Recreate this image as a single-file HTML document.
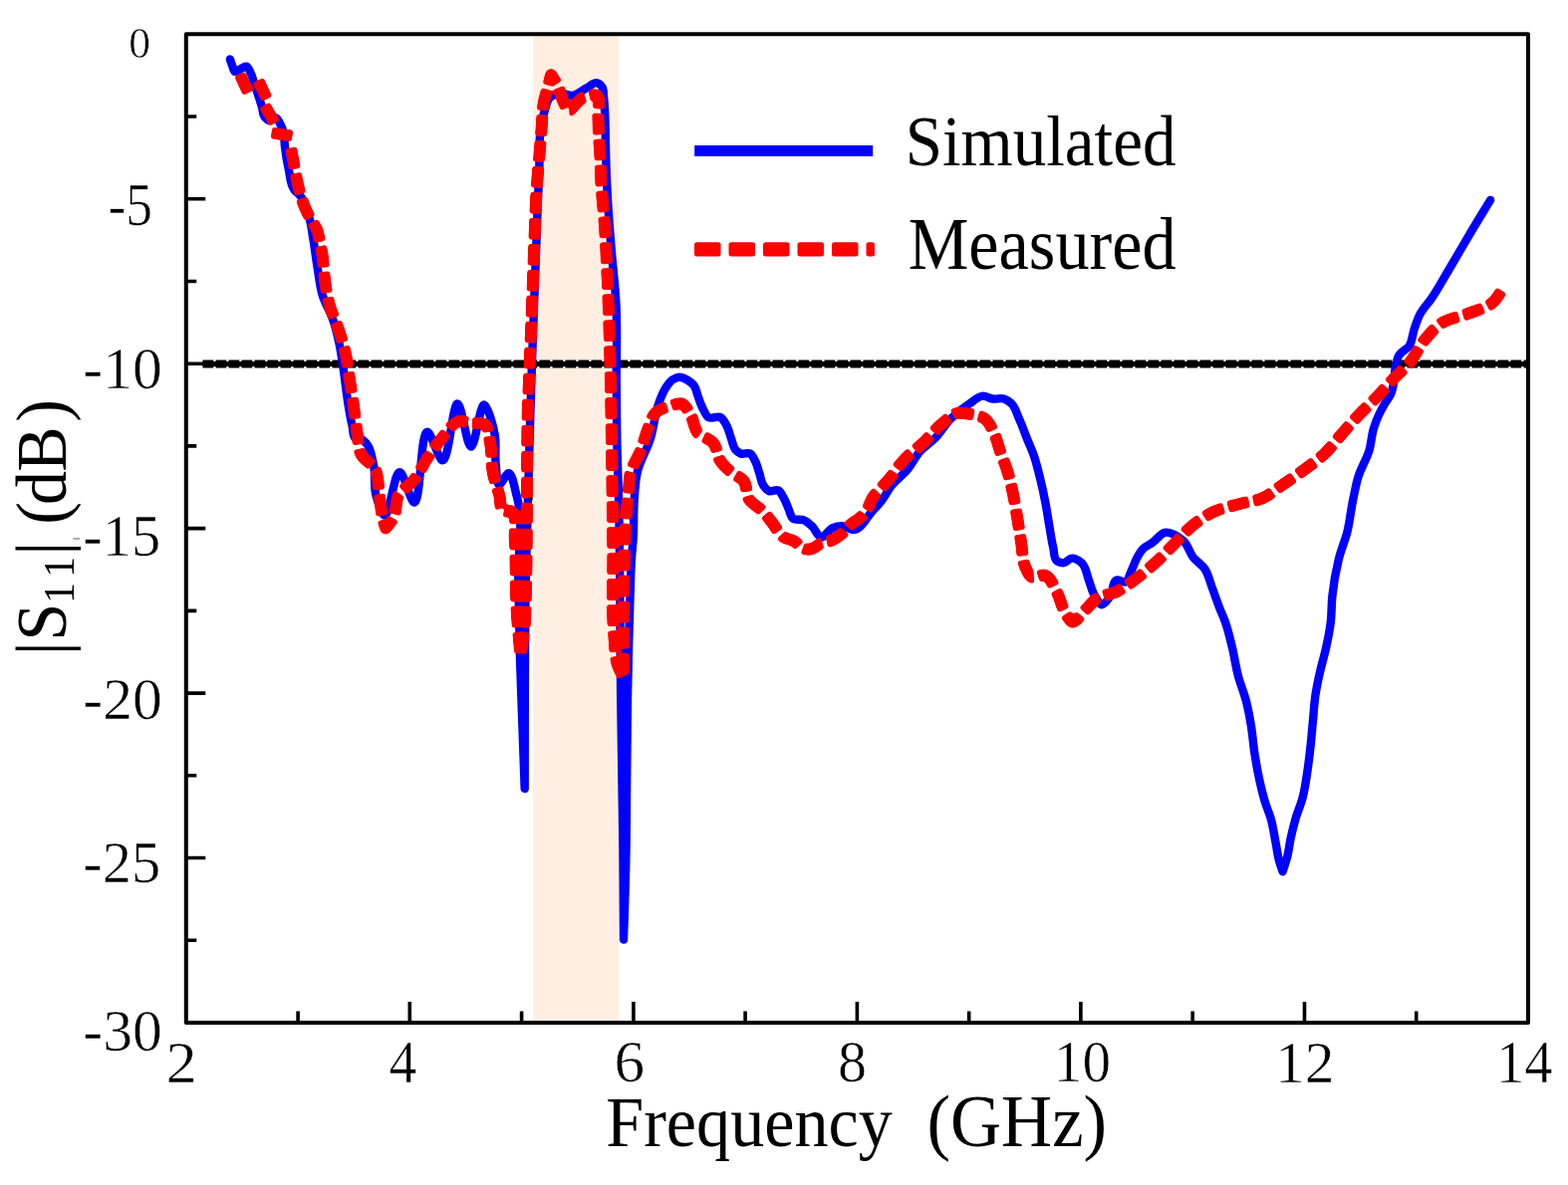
<!DOCTYPE html>
<html lang="en">
<head>
<meta charset="utf-8">
<title>|S11| (dB) versus Frequency (GHz) - Simulated and Measured</title>
<style>
html,body{margin:0;padding:0;background:#fff;}
body{width:1574px;height:1190px;overflow:hidden;}
svg{display:block;}
</style>
</head>
<body>
<svg width="1574" height="1190" viewBox="0 0 1574 1190">
<defs><filter id="rnd" x="0" y="0" width="1574" height="1190" filterUnits="userSpaceOnUse"><feGaussianBlur stdDeviation="1.7"/><feComponentTransfer><feFuncA type="linear" slope="5" intercept="-2"/></feComponentTransfer></filter></defs>
<rect x="0" y="0" width="1574" height="1190" fill="#fff"/>
<rect x="535" y="34.3" width="86" height="992.7" fill="#ffefe2"/>
<line x1="203.5" y1="365.5" x2="1534.0" y2="365.5" stroke="#000" stroke-width="8.2" stroke-dasharray="10.8 2.2"/>
<line x1="203.5" y1="365.5" x2="1534.0" y2="365.5" stroke="#000" stroke-width="5"/>
<path d="M230.9 59.5C231.7 61.7 232.3 63.9 233.2 66.0C234.0 68.0 234.5 71.6 236.0 72.0C237.3 72.3 239.3 70.3 241.0 69.5C243.1 68.5 245.8 66.3 247.5 66.8C249.3 67.3 250.4 70.8 251.5 73.0C253.3 76.4 254.0 80.3 255.3 84.0C256.5 87.7 257.8 91.3 259.0 95.0C260.4 99.2 261.7 103.3 263.0 107.5C264.0 111.0 263.7 115.4 266.0 118.0C267.1 119.2 268.6 120.6 270.0 121.0C272.1 121.6 275.1 117.9 277.0 118.5C279.0 119.1 280.3 122.7 281.5 125.0C282.9 127.6 284.0 130.6 284.7 133.5C285.8 137.7 285.4 142.3 285.9 146.7C286.8 154.4 288.0 162.1 289.7 169.6C291.3 176.7 291.1 185.0 295.4 190.6C297.0 192.7 299.4 194.3 301.1 196.3C306.3 202.6 308.3 211.3 310.6 219.2C312.5 226.0 313.2 233.1 314.4 240.1C316.0 249.7 317.1 259.4 318.7 269.0C320.2 277.9 320.9 287.1 323.5 295.7C326.0 304.3 331.1 312.0 334.0 320.5C336.8 328.6 338.8 336.9 340.6 345.3C342.2 352.9 343.2 360.6 344.4 368.2C346.1 379.6 347.2 391.1 349.0 402.5C350.3 410.8 351.4 419.1 353.5 427.2C354.7 431.7 353.8 439.0 357.5 440.5C358.9 441.0 361.0 440.4 362.5 441.0C364.4 441.7 366.0 443.5 367.5 445.0C372.5 450.1 373.1 458.7 374.8 465.8C377.3 476.3 374.7 487.9 377.6 498.2C379.4 504.7 382.8 514.8 385.3 517.2C390.9 522.6 395.6 472.1 401.5 474.3C405.7 475.9 411.0 500.4 414.8 503.9C423.1 511.5 421.4 426.3 430.1 434.3C433.9 437.7 439.5 459.3 443.4 462.0C450.8 467.1 454.0 403.3 459.6 405.7C463.9 407.6 468.4 448.7 472.9 448.6C477.3 448.5 481.7 404.6 486.3 406.7C489.7 408.2 495.0 426.7 496.8 437.2C498.4 446.5 496.6 456.4 497.7 465.8C498.5 472.8 498.4 487.3 501.5 486.7C503.6 486.3 507.7 476.1 510.1 475.3C514.3 474.0 516.5 490.4 518.7 498.2C526.2 524.1 519.8 552.7 520.3 580.0C520.9 607.3 521.4 634.7 522.0 662.0C523.6 705.3 525.1 748.7 526.7 792.0C526.7 761.3 526.8 730.7 526.8 700.0C527.0 666.7 527.0 633.3 527.5 600.0C528.0 566.7 529.1 533.3 530.0 500.0C531.2 454.7 532.5 409.3 534.0 364.0C535.2 327.7 536.6 291.3 538.0 255.0C539.0 230.0 539.5 205.0 541.0 180.0C542.4 157.4 539.4 133.7 546.4 112.4C548.0 107.5 548.5 101.3 552.0 98.0C554.3 95.8 557.9 94.1 561.0 93.4C565.4 92.5 570.6 96.5 575.0 95.9C580.0 95.2 584.3 90.8 589.0 88.3C592.3 86.6 596.0 82.4 599.1 83.2C601.0 83.7 603.3 85.7 604.5 87.5C606.2 90.0 605.6 94.0 606.0 97.2C606.8 103.5 607.0 109.9 607.3 116.2C607.7 124.7 607.7 133.2 607.9 141.7C608.1 150.2 608.2 158.6 608.5 167.1C608.9 179.2 609.5 191.2 610.2 203.3C611.2 220.3 612.6 237.2 614.0 254.1C615.3 269.4 617.2 284.7 618.2 300.0C620.0 328.9 618.5 358.0 618.8 387.0C619.0 408.0 619.0 429.0 619.5 450.0C619.9 466.7 620.6 483.3 621.0 500.0C622.7 566.6 622.3 633.3 623.2 700.0C623.9 750.0 624.7 800.0 625.4 850.0C625.6 881.2 625.8 912.3 626.0 943.5C626.8 917.7 627.8 891.8 628.3 866.0C628.9 837.3 628.9 808.7 629.2 780.0C629.5 753.3 629.6 726.7 630.0 700.0C630.6 666.7 631.4 633.3 632.5 600.0C633.0 586.7 633.1 573.3 634.0 560.0C634.5 553.2 635.3 546.4 635.7 539.6C636.5 526.9 635.8 514.2 636.7 501.5C637.4 492.6 637.7 483.5 639.6 474.8C642.2 462.9 649.3 452.2 652.9 440.5C656.6 428.7 657.1 415.9 661.5 404.4C663.4 399.4 665.2 394.1 668.2 389.6C670.1 386.7 672.1 383.4 675.0 381.5C677.0 380.2 679.4 378.9 681.7 378.8C684.3 378.6 687.3 380.2 689.7 381.5C692.2 382.9 694.8 384.7 696.5 386.9C698.8 389.8 699.1 394.0 700.5 397.6C702.2 402.1 703.6 406.9 705.9 411.1C707.5 413.9 708.9 417.7 711.3 419.2C714.3 421.1 720.3 417.3 723.4 419.2C725.6 420.5 727.2 423.5 728.7 425.9C731.4 430.3 732.3 435.8 734.1 440.7C735.4 444.3 735.8 448.6 738.2 451.4C739.6 453.0 741.5 454.7 743.5 455.5C746.3 456.6 750.4 454.2 752.9 455.5C755.4 456.8 756.8 460.7 758.3 463.5C760.2 467.2 761.0 471.6 762.4 475.6C763.7 479.6 764.0 484.3 766.4 487.7C767.8 489.7 769.7 492.2 771.8 493.1C774.4 494.2 778.7 491.2 781.2 492.4C783.6 493.5 785.0 497.2 786.6 499.8C788.9 503.6 790.1 507.9 791.9 511.9C793.2 514.8 793.7 518.8 795.8 520.6C798.4 522.8 803.9 520.9 807.3 522.5C810.1 523.8 812.6 526.1 814.9 528.2C818.5 531.5 820.9 539.3 824.4 539.6C827.9 539.9 831.4 531.9 835.8 530.1C838.7 528.9 842.2 528.1 845.4 528.2C849.3 528.3 853.3 532.0 856.8 532.0C864.7 532.0 869.7 519.5 875.9 513.0C878.6 510.2 881.3 507.4 883.8 504.4C888.2 499.1 891.0 492.5 895.3 487.2C899.8 481.7 905.9 477.4 910.5 472.0C915.5 466.1 918.7 458.6 923.9 452.9C928.4 448.0 934.4 444.4 939.1 439.6C944.8 433.8 948.7 426.2 954.4 420.5C960.1 414.8 966.6 409.7 973.4 405.3C977.7 402.5 982.1 397.7 986.8 397.6C989.9 397.5 993.1 400.0 996.3 400.5C1000.0 401.1 1004.2 399.4 1007.7 400.5C1010.4 401.4 1013.2 403.3 1015.3 405.3C1019.3 409.0 1020.6 415.3 1023.0 420.5C1025.8 426.7 1028.1 433.2 1030.6 439.6C1033.1 445.9 1036.0 452.1 1038.2 458.6C1040.5 465.5 1042.2 472.6 1043.9 479.6C1046.1 488.4 1048.0 497.4 1049.7 506.3C1051.1 513.9 1052.2 521.5 1053.5 529.1C1054.7 536.1 1055.6 543.2 1057.3 550.1C1058.4 554.6 1057.6 561.1 1061.1 563.5C1062.6 564.5 1064.9 565.3 1066.8 565.4C1070.1 565.5 1073.1 560.6 1076.3 560.6C1079.5 560.6 1083.4 563.2 1085.9 565.4C1090.2 569.2 1090.7 576.7 1092.9 582.4C1094.9 587.5 1095.8 593.1 1098.6 597.7C1100.7 601.1 1103.6 607.3 1106.3 607.2C1108.7 607.2 1111.8 602.4 1113.9 599.6C1117.6 594.7 1116.5 582.9 1121.5 582.4C1123.6 582.2 1126.9 584.9 1129.0 584.5C1132.7 583.9 1133.9 576.6 1136.0 572.5C1138.0 568.6 1139.1 564.3 1141.2 560.5C1143.0 557.2 1144.9 553.6 1147.5 551.0C1150.1 548.4 1153.9 547.0 1157.0 544.8C1161.2 541.7 1164.8 535.8 1169.1 534.8C1174.9 533.5 1183.3 538.9 1188.2 543.4C1192.6 547.5 1193.8 554.7 1197.7 559.6C1201.0 563.8 1206.2 566.7 1209.2 571.0C1213.0 576.5 1214.4 583.7 1216.8 590.1C1219.4 597.0 1221.7 604.1 1224.4 611.0C1226.2 615.6 1228.3 620.1 1230.0 624.7C1233.0 633.1 1234.9 641.9 1237.0 650.6C1239.2 659.9 1240.5 669.5 1242.9 678.8C1245.2 687.5 1248.9 695.9 1251.1 704.7C1253.1 712.4 1254.5 720.3 1255.8 728.2C1257.4 737.5 1257.9 747.0 1259.4 756.4C1260.7 765.1 1262.2 773.7 1264.1 782.3C1265.8 790.2 1267.6 798.1 1270.0 805.8C1271.7 811.4 1274.2 816.7 1275.8 822.3C1278.0 830.0 1279.0 838.0 1280.5 845.8C1281.7 852.1 1282.4 858.5 1284.1 864.6C1285.1 868.2 1286.4 871.7 1287.6 875.2C1289.2 870.1 1291.0 865.1 1292.3 859.9C1293.9 853.7 1294.4 847.3 1295.8 841.1C1297.2 834.8 1298.7 828.5 1300.5 822.3C1302.6 815.1 1305.7 808.3 1307.6 801.1C1309.8 792.6 1311.0 783.9 1312.3 775.2C1313.7 765.8 1314.8 756.4 1315.8 747.0C1316.7 738.4 1317.4 729.7 1318.2 721.1C1318.9 713.3 1319.3 705.4 1320.5 697.6C1321.7 689.7 1323.4 681.9 1325.2 674.1C1327.0 666.2 1329.4 658.5 1331.1 650.6C1333.0 642.0 1334.7 633.4 1335.8 624.7C1336.8 616.0 1336.5 607.2 1337.4 598.5C1338.7 586.0 1340.9 573.5 1343.9 561.3C1346.3 551.7 1350.4 542.5 1352.7 532.9C1355.1 522.9 1356.0 512.4 1358.1 502.3C1359.8 494.3 1361.2 486.1 1363.6 478.3C1366.4 469.3 1371.9 461.1 1374.5 452.1C1376.6 445.0 1376.7 437.3 1378.9 430.2C1380.4 425.4 1382.2 420.6 1384.4 416.0C1386.2 412.2 1388.3 408.5 1390.4 404.9C1392.4 401.5 1395.0 398.4 1396.5 394.8C1398.3 390.4 1398.8 385.4 1399.5 380.7C1400.0 377.4 1399.9 373.9 1400.5 370.6C1401.3 365.8 1402.0 360.5 1404.5 356.5C1406.8 352.8 1412.1 351.0 1414.6 347.4C1417.8 342.7 1417.7 335.9 1419.7 330.3C1421.5 325.2 1423.1 319.9 1425.7 315.1C1428.6 309.7 1433.3 305.1 1436.8 300.0C1443.3 290.5 1448.7 280.4 1454.6 270.5C1461.1 259.6 1467.4 248.5 1473.9 237.6C1481.2 225.3 1488.7 213.1 1496.1 200.9" fill="none" stroke="#0000ff" stroke-width="8.4" stroke-linecap="round" stroke-linejoin="round"/>
<path d="M240.6 74.3L249.4 93.3M259.1 80.5L267.9 99.5M265.4 105.6L275.8 123.8M272.5 133.3L293.5 136.7M292.0 148.3C292.6 151.7 293.3 155.2 293.9 158.6C294.5 162.1 295.2 165.5 295.8 169.0C296.7 174.0 297.6 179.0 298.7 184.0C299.7 188.4 300.7 192.7 302.0 197.0C303.2 201.0 304.6 204.9 306.2 208.7C308.1 213.3 310.5 217.7 313.0 222.0C314.6 224.9 316.9 227.6 318.2 230.6C319.8 234.5 320.1 238.9 321.0 243.0C321.9 247.1 322.8 251.2 323.5 255.4C325.0 264.3 324.9 273.5 326.2 282.4C327.4 290.7 328.7 299.1 331.0 307.2C333.2 315.0 337.0 322.3 339.6 330.0C342.5 338.8 345.3 347.7 347.2 356.7C349.0 364.9 349.7 373.2 351.0 381.5C352.3 389.8 353.6 398.0 354.8 406.3C356.2 416.0 357.1 425.7 358.6 435.3C359.7 442.3 359.3 450.1 362.4 456.2C365.4 462.2 373.7 465.6 376.7 471.5C380.1 478.1 379.3 486.7 380.5 494.3C381.9 503.2 382.1 512.3 384.3 521.0C385.1 524.2 386.2 527.4 387.2 530.6C389.8 527.1 393.0 523.8 395.0 520.0C398.8 513.0 396.4 502.9 400.5 496.3C403.8 491.0 410.6 487.8 414.8 482.9C420.6 476.1 424.1 467.4 429.1 460.0C433.9 452.9 438.7 445.5 444.4 439.1C449.6 433.3 454.4 423.7 461.5 422.9C465.0 422.5 469.1 424.5 473.0 425.0C477.4 425.5 483.1 423.9 486.3 425.7C491.0 428.5 490.6 438.3 492.0 444.8C494.2 454.7 492.9 465.3 494.9 475.3C496.5 483.1 499.5 490.5 501.5 498.2C502.8 503.2 501.3 512.1 505.3 513.4C507.0 514.0 510.1 512.7 512.0 513.0C520.3 514.3 515.9 532.3 516.8 542.0C517.7 551.5 517.4 561.1 517.7 570.6C518.1 583.7 517.9 596.9 518.5 610.0C519.3 626.1 521.1 642.2 522.4 658.3C523.8 648.9 525.6 639.5 526.5 630.0C527.8 616.7 527.6 603.3 528.0 590.0C528.9 560.0 528.7 530.0 529.0 500.0C529.3 470.7 528.9 441.3 529.8 412.0C530.3 396.1 531.1 380.3 531.7 364.4C532.5 345.3 533.3 326.3 534.0 307.2C534.7 290.0 535.2 272.9 535.9 255.7C536.9 230.4 537.5 205.1 539.4 179.8C540.1 170.0 541.1 160.3 541.9 150.5C542.6 142.5 543.1 134.4 543.8 126.4C544.4 118.8 544.3 111.0 545.7 103.5C546.9 97.1 549.2 90.9 550.8 84.5C551.6 81.3 552.3 78.2 553.1 75.0C555.3 78.6 557.8 82.0 559.7 85.7C562.5 91.3 563.1 98.0 566.1 103.5C567.6 106.2 569.3 111.0 571.2 111.2C573.1 111.3 575.3 106.9 577.5 104.8C580.3 102.1 583.0 98.7 586.4 97.2C590.1 95.6 596.4 94.5 599.1 95.9C603.4 98.1 600.1 109.4 600.4 116.2C600.7 122.6 600.7 128.9 601.0 135.3C601.3 141.7 602.0 148.0 602.3 154.4C602.8 162.9 602.8 171.3 603.2 179.8C604.0 196.1 606.0 212.4 607.1 228.7C608.2 245.6 608.9 262.6 609.7 279.5C611.0 308.0 611.8 336.5 612.5 365.0C613.2 393.3 613.6 421.7 614.0 450.0C614.5 483.3 614.9 516.7 615.3 550.0C615.7 580.0 613.6 610.2 616.5 640.0C617.4 649.4 617.0 659.2 620.0 668.0C621.5 672.3 623.9 676.3 625.8 680.5C625.9 670.3 625.9 660.2 626.0 650.0C626.2 626.7 626.0 603.3 626.5 580.0C626.9 560.2 627.1 540.4 628.5 520.6C629.2 511.1 630.0 501.5 631.0 492.0C631.6 486.3 631.5 480.3 632.9 474.8C634.9 466.8 640.3 459.8 643.4 452.0C646.3 444.5 647.8 436.5 651.0 429.1C653.2 423.9 654.6 417.5 658.6 413.9C662.0 410.8 667.4 409.6 672.0 408.1C676.0 406.8 680.9 404.2 684.3 405.3C688.0 406.5 690.5 412.0 692.9 415.8C696.5 421.5 696.2 429.9 700.5 434.8C704.3 439.1 712.0 440.1 715.8 444.4C720.1 449.3 719.6 457.9 723.4 463.4C726.4 467.7 730.6 471.4 734.8 474.8C738.4 477.7 743.5 479.2 746.3 482.5C750.3 487.3 748.5 496.2 752.0 501.5C755.1 506.2 761.2 508.8 765.3 513.0C768.8 516.5 771.8 520.5 774.9 524.4C778.9 529.4 781.5 536.2 786.7 539.5C789.8 541.5 794.3 541.5 797.5 543.5C800.5 545.3 802.4 549.2 805.5 550.5C807.9 551.5 811.0 551.8 813.6 551.5C817.5 551.0 820.6 547.0 824.4 545.5C827.8 544.1 831.8 544.0 835.1 542.5C838.5 541.0 841.6 538.8 844.5 536.5C848.0 533.6 850.4 529.4 853.9 526.5C856.8 524.0 860.6 522.6 863.4 520.0C866.5 517.1 869.3 513.6 871.4 509.9C873.1 507.0 873.8 503.4 875.5 500.5C877.9 496.4 881.8 493.3 884.9 489.7C888.0 486.1 891.4 482.7 894.3 479.0C896.7 476.0 898.6 472.6 901.0 469.6C903.5 466.3 906.2 463.1 909.1 460.2C912.4 456.8 916.2 453.9 919.8 450.8C922.1 448.9 924.4 447.0 926.6 445.0C933.1 439.2 938.1 431.7 944.8 426.2C950.1 421.9 955.5 415.8 962.0 414.8C965.6 414.3 969.7 415.1 973.4 415.8C978.6 416.7 984.7 417.5 988.7 420.5C993.2 423.8 995.7 430.4 998.2 435.8C1000.7 441.2 1001.9 447.2 1003.9 452.9C1006.3 459.9 1009.3 466.8 1011.5 473.9C1013.6 480.8 1015.2 487.8 1016.7 494.8C1018.6 503.6 1019.9 512.6 1021.4 521.5C1022.8 529.7 1024.0 538.0 1025.3 546.2C1026.5 553.8 1026.0 562.2 1029.1 569.1C1030.8 572.8 1032.6 578.1 1035.7 579.6C1039.1 581.3 1045.4 576.6 1049.1 577.7C1054.5 579.3 1057.3 588.2 1060.5 593.9C1064.5 601.0 1065.5 609.8 1070.0 616.7C1071.7 619.4 1073.7 623.5 1075.8 624.4C1079.6 626.1 1084.8 616.9 1089.1 612.9C1093.0 609.2 1096.2 604.5 1100.5 601.5C1106.5 597.4 1114.9 597.3 1121.5 593.9C1127.6 590.8 1133.1 586.5 1138.7 582.4C1146.0 577.1 1152.9 571.3 1159.6 565.3C1166.3 559.3 1172.3 552.6 1178.7 546.2C1185.0 539.9 1190.7 532.7 1197.7 527.2C1204.2 522.1 1211.2 517.3 1218.7 513.8C1226.5 510.2 1235.2 508.5 1243.5 506.2C1251.4 504.0 1260.1 503.5 1267.5 500.2C1274.6 497.0 1280.6 491.5 1287.1 487.1C1294.5 482.1 1301.8 477.1 1309.0 471.8C1315.7 466.9 1322.7 462.2 1328.7 456.5C1335.1 450.5 1340.3 443.4 1346.1 436.8C1351.9 430.2 1357.6 423.5 1363.6 417.1C1369.3 411.1 1375.4 405.6 1381.1 399.7C1387.1 393.5 1392.6 386.8 1398.6 380.6C1404.2 374.7 1410.8 369.5 1415.9 363.2C1421.1 356.7 1424.3 348.5 1429.5 342.0C1434.6 335.7 1440.2 329.0 1446.9 324.6C1454.7 319.5 1465.1 318.5 1473.9 314.9C1482.4 311.4 1492.5 309.4 1499.0 303.3C1502.9 299.6 1505.5 294.3 1508.7 289.8" fill="none" stroke="#ff0000" stroke-width="12" stroke-dasharray="21.8 4.2" stroke-linejoin="round" filter="url(#rnd)"/>
<rect x="73.4" y="540.2" width="6.8" height="1.6" fill="#9a9a9a"/>
<rect x="531.6" y="499.2" width="3" height="3" fill="#000"/>
<g stroke="#000" stroke-width="4" fill="none" stroke-linecap="butt">
<path d="M186.8 34.3H1534.0V1027.0H186.8Z" stroke-linejoin="round"/>
<path d="M186.8 117.0h10.5M186.8 199.8h19.5M186.8 282.5h10.5M186.8 365.2h19.5M186.8 447.9h10.5M186.8 530.6h19.5M186.8 613.4h10.5M186.8 696.1h19.5M186.8 778.8h10.5M186.8 861.5h19.5M186.8 944.3h10.5M299.1 1027.0v-11.5M411.3 1027.0v-21.0M523.6 1027.0v-11.5M635.9 1027.0v-21.0M748.1 1027.0v-11.5M860.4 1027.0v-21.0M972.7 1027.0v-11.5M1084.9 1027.0v-21.0M1197.2 1027.0v-11.5M1309.5 1027.0v-21.0M1421.7 1027.0v-11.5" stroke-width="3.6"/>
</g>
<rect x="697.2" y="146" width="179" height="11" fill="#0000ff"/>
<g fill="#ff0000"><rect x="697.0" y="243.2" width="26.5" height="14.2" rx="2.5"/><rect x="731.5" y="243.2" width="26.5" height="14.2" rx="2.5"/><rect x="766.0" y="243.2" width="26.5" height="14.2" rx="2.5"/><rect x="800.5" y="243.2" width="26.5" height="14.2" rx="2.5"/><rect x="835.0" y="243.2" width="26.5" height="14.2" rx="2.5"/><rect x="869.5" y="243.2" width="8.5" height="14.2" rx="2.5"/></g>
<g font-family="'Liberation Serif', serif" fill="#000">
<text transform="translate(129.21 57.66) scale(1 1.0064)" font-size="43.57" xml:space="preserve" style="white-space:pre" stroke="#fff" stroke-width="0.55">0</text>
<text transform="translate(108.43 225.60) scale(1 1.1260)" font-size="53.55" xml:space="preserve" style="white-space:pre" stroke="#fff" stroke-width="0.55">-5</text>
<text transform="translate(83.31 389.71) scale(1 0.9830)" font-size="59.68" xml:space="preserve" style="white-space:pre" stroke="#fff" stroke-width="0.55">-10</text>
<text transform="translate(83.35 558.20) scale(1 1.0206)" font-size="58.49" xml:space="preserve" style="white-space:pre" stroke="#fff" stroke-width="0.55">-15</text>
<text transform="translate(83.31 722.21) scale(1 0.9830)" font-size="59.68" xml:space="preserve" style="white-space:pre" stroke="#fff" stroke-width="0.55">-20</text>
<text transform="translate(83.35 886.12) scale(1 0.9977)" font-size="58.49" xml:space="preserve" style="white-space:pre" stroke="#fff" stroke-width="0.55">-25</text>
<text transform="translate(83.31 1054.61) scale(1 0.9830)" font-size="59.68" xml:space="preserve" style="white-space:pre" stroke="#fff" stroke-width="0.55">-30</text>
<text transform="translate(166.50 1086.70) scale(1 0.9639)" font-size="62.25" xml:space="preserve" style="white-space:pre" stroke="#fff" stroke-width="0.55">2</text>
<text transform="translate(390.39 1087.20) scale(1 1.0938)" font-size="55.70" xml:space="preserve" style="white-space:pre" stroke="#fff" stroke-width="0.55">4</text>
<text transform="translate(616.45 1086.31) scale(1 0.9661)" font-size="61.18" xml:space="preserve" style="white-space:pre" stroke="#fff" stroke-width="0.55">6</text>
<text transform="translate(840.88 1086.31) scale(1 1.0098)" font-size="58.10" xml:space="preserve" style="white-space:pre" stroke="#fff" stroke-width="0.55">8</text>
<text transform="translate(1057.85 1086.31) scale(1 1.0249)" font-size="57.24" xml:space="preserve" style="white-space:pre" stroke="#fff" stroke-width="0.55">10</text>
<text transform="translate(1280.05 1086.90) scale(1 1.0098)" font-size="59.42" xml:space="preserve" style="white-space:pre" stroke="#fff" stroke-width="0.55">12</text>
<text transform="translate(1501.89 1086.90) scale(1 1.0652)" font-size="56.76" xml:space="preserve" style="white-space:pre" stroke="#fff" stroke-width="0.55">14</text>
<text transform="translate(908.64 165.87) scale(1 1.0868)" font-size="67.04" xml:space="preserve" style="white-space:pre">Simulated</text>
<text transform="translate(911.65 269.57) scale(1 1.0720)" font-size="68.23" xml:space="preserve" style="white-space:pre">Measured</text>
<text transform="translate(0 1151) scale(1 1.043)" font-size="69" xml:space="preserve" style="white-space:pre"><tspan x="608.26" y="0" font-size="68.15">Frequency  </tspan><tspan x="930.41" y="0" font-size="70.79">(GHz)</tspan></text>
<text transform="translate(66.30 660.00) rotate(-90) scale(1 1.0441)" font-size="68.00" xml:space="preserve" style="white-space:pre"><tspan x="1.90 16.61" y="0">|S</tspan><tspan x="54.07 80.12" y="7.66" font-size="42.0">11</tspan><tspan x="102.40 118.00 133.27 152.90 186.15 236.27" y="0">| (dB)</tspan></text>
</g>
</svg>
</body>
</html>
